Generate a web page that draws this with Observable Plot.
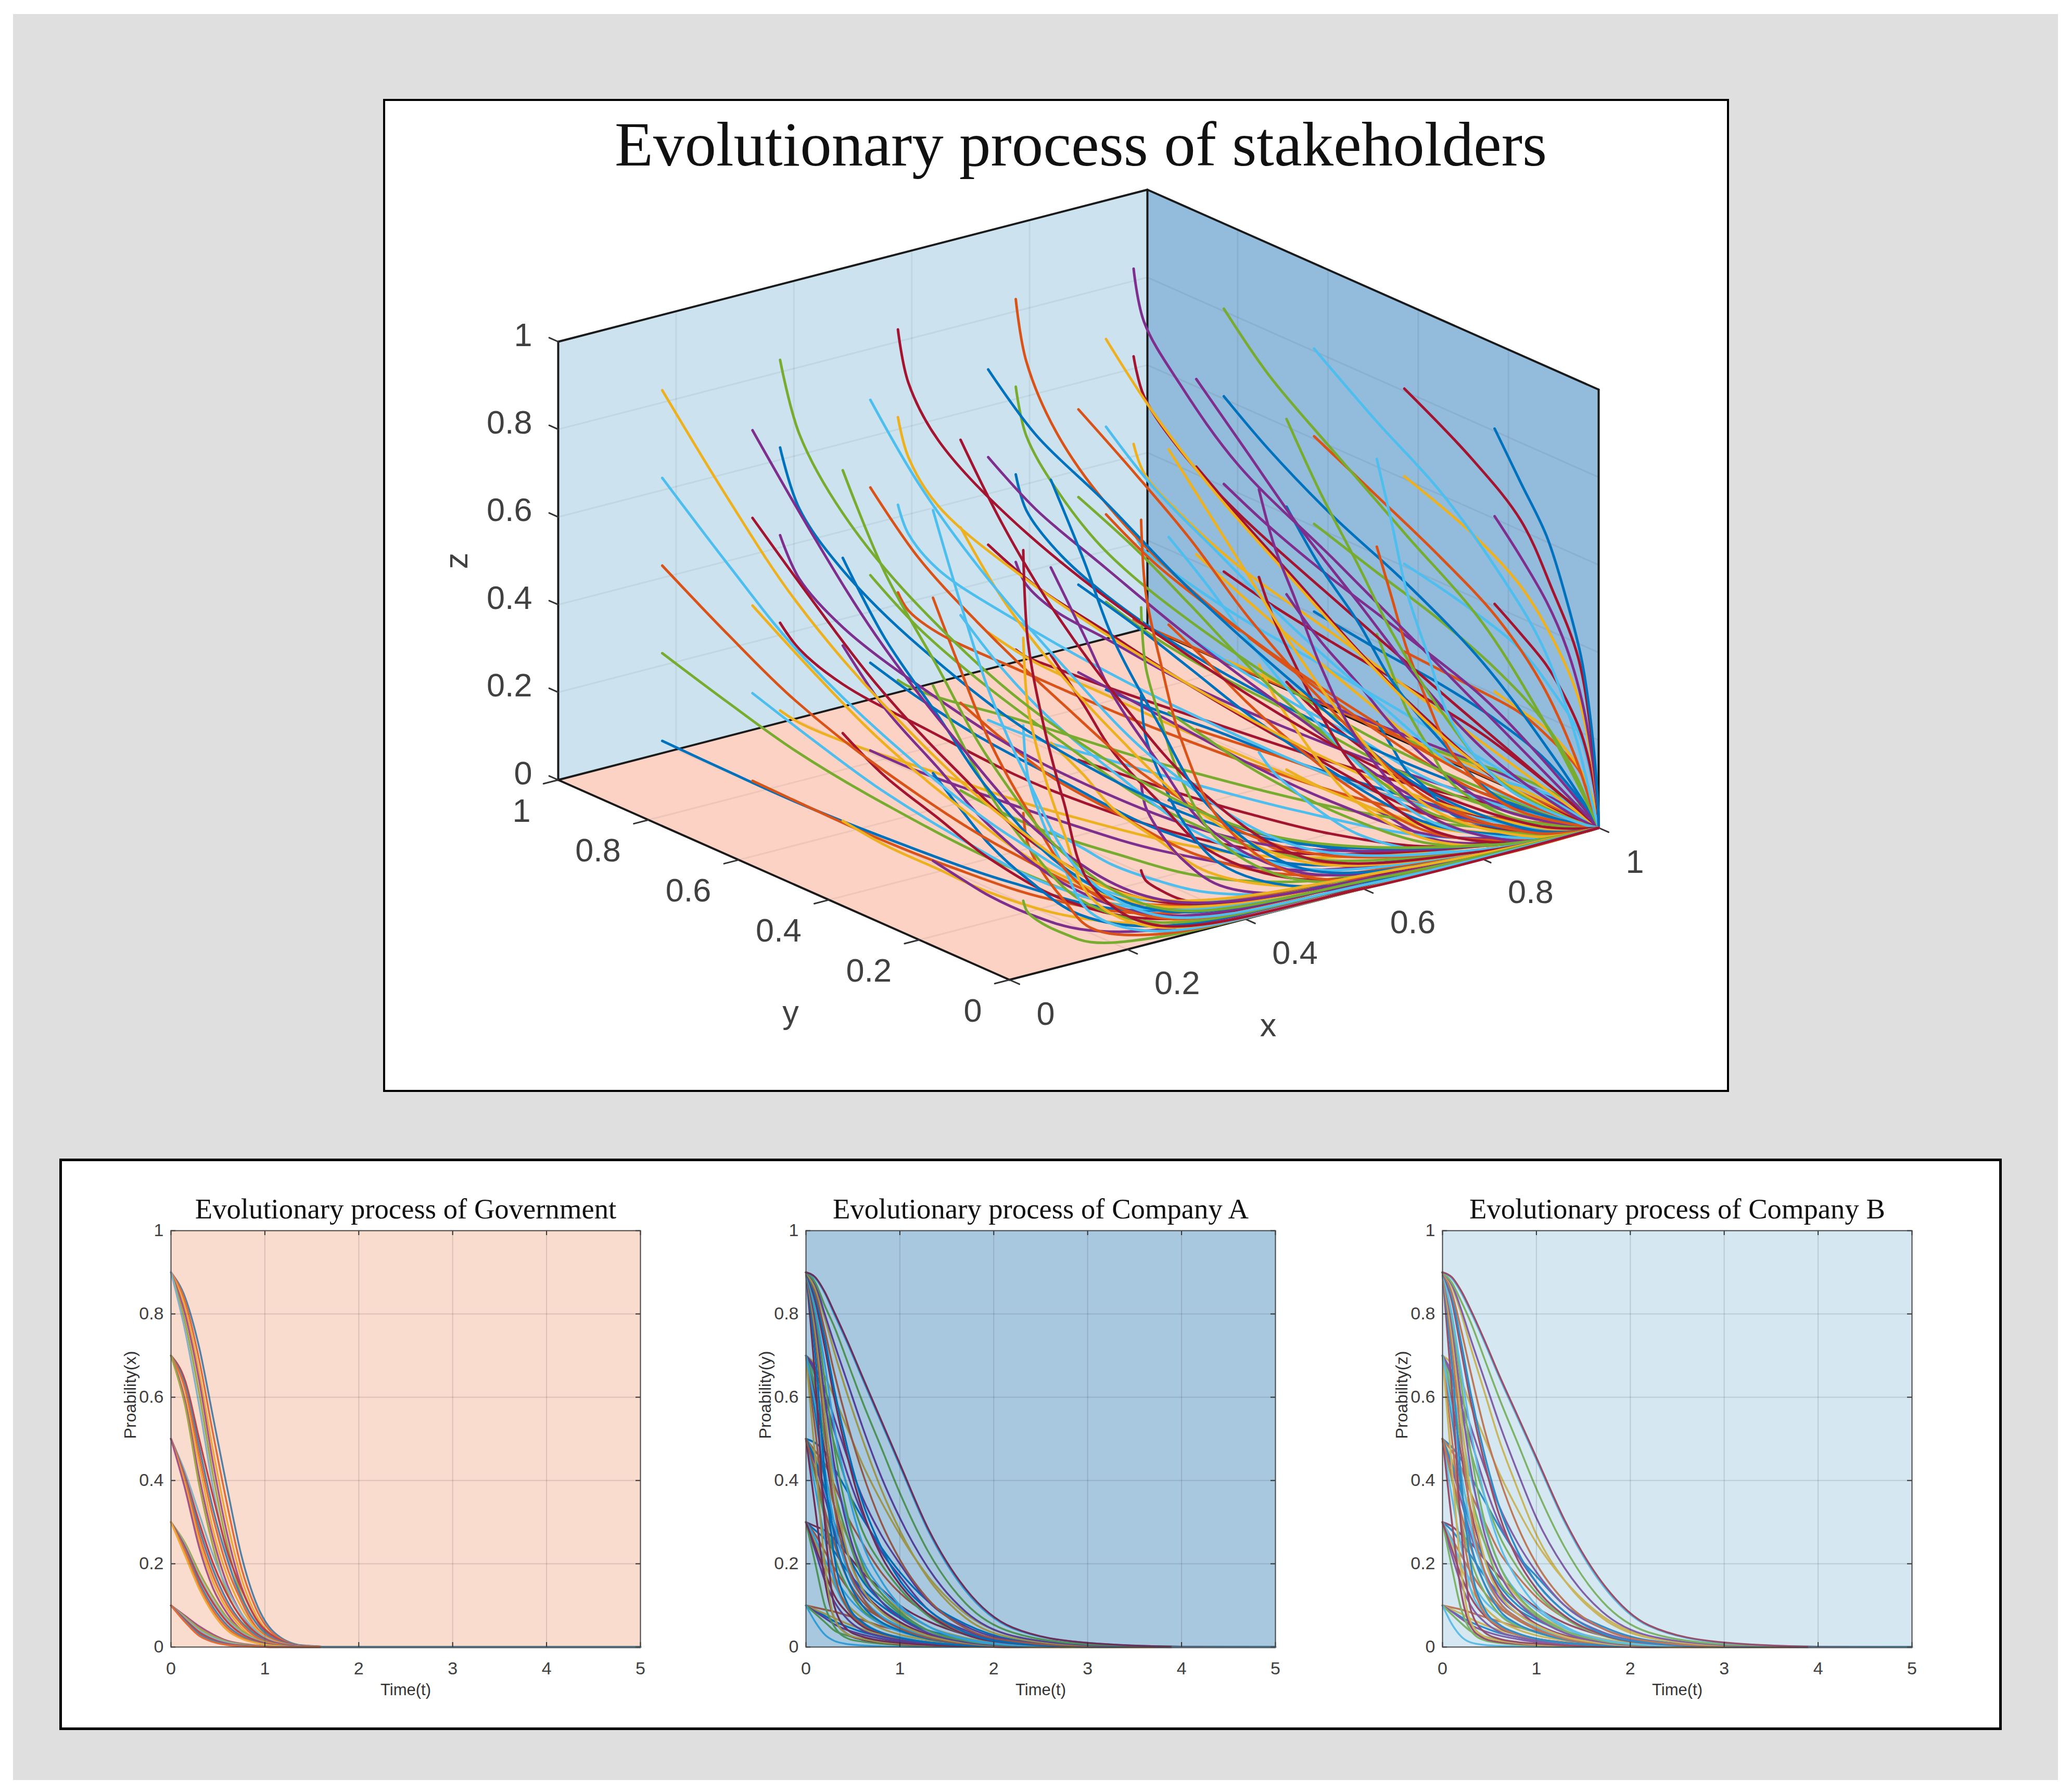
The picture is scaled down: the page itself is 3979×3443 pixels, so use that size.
<!DOCTYPE html>
<html><head><meta charset="utf-8">
<script src="https://cdn.jsdelivr.net/npm/d3@7"></script>
<script src="https://cdn.jsdelivr.net/npm/@observablehq/plot@0.6"></script>
<style>
html,body{margin:0;padding:0;background:#fff}
#page{position:relative;width:3979px;height:3443px;overflow:hidden}
.box{position:absolute;box-sizing:border-box}
#page svg{position:absolute;overflow:visible;max-width:none}
</style></head><body><div id="page">
<div class="box" style="left:25px;top:27px;width:3929px;height:3393px;background:#dfdfdf"></div>
<div class="box" style="left:736px;top:190px;width:2586px;height:1908px;background:#fff;border:4px solid #000"></div>
<div class="box" style="left:114px;top:2226px;width:3732px;height:1098px;background:#fff;border:5px solid #000"></div>
</div>
<script>
// MATLAB default line colours
const palette = ["#0072BD","#D95319","#EDB120","#7E2F8E","#77AC30","#4DBEEE","#A2142F"];
const ticks01 = [0,0.2,0.4,0.6,0.8,1];
const grid01 = [0.2,0.4,0.6,0.8];
const timeTicks = [0,1,2,3,4,5];

// ---- 3D trajectories: values, by start value ----
const sink = [1,0,0];
// x along a trajectory. Rows: start x .1 .3 .5 .7 .9; inner: start y .1 .3 .5 .7 .9
const xNodes = [
 [[.1,.1,.11,.13,.16,.25,.6],[.1,.11,.12,.14,.18,.28,.62],[.1,.11,.13,.15,.2,.3,.65],[.1,.12,.14,.17,.22,.32,.68],[.1,.12,.14,.17,.22,.3,.7]],
 [[.3,.3,.31,.33,.38,.5,.78],[.3,.31,.32,.35,.4,.52,.8],[.3,.31,.33,.37,.43,.55,.82],[.3,.32,.35,.39,.45,.57,.84],[.3,.31,.33,.37,.43,.56,.85]],
 [[.5,.51,.53,.56,.61,.72,.88],[.5,.52,.54,.58,.64,.74,.9],[.5,.53,.56,.6,.66,.76,.91],[.5,.52,.56,.61,.68,.78,.92],[.5,.51,.53,.58,.65,.78,.93]],
 [[.7,.71,.72,.74,.77,.85,.97],[.7,.71,.73,.75,.79,.86,.97],[.7,.73,.76,.79,.83,.9,.98],[.7,.72,.75,.78,.82,.88,.97],[.7,.71,.73,.76,.8,.87,.96]],
 [[.9,.925,.95,.968,.983,.994,.999],[.9,.93,.96,.975,.988,.996,.999],[.9,.92,.945,.965,.98,.99,.998],[.9,.915,.93,.95,.97,.985,.997],[.9,.91,.925,.94,.96,.98,.995]]];
// y along a trajectory. Rows: start x; inner: start y .1 .3 .5 .7 .9
const yNodes = [
 [[.1,.09,.07,.05,.03,.01,0],[.3,.25,.2,.14,.08,.03,.01],[.5,.42,.33,.24,.13,.05,.02],[.7,.59,.48,.35,.2,.08,.02],[.9,.78,.66,.5,.28,.11,.03]],
 [[.1,.09,.07,.05,.03,.01,0],[.3,.24,.19,.13,.08,.03,.01],[.5,.42,.34,.25,.14,.06,.02],[.7,.62,.53,.4,.25,.1,.02],[.9,.87,.8,.68,.46,.18,.03]],
 [[.1,.08,.06,.04,.02,.01,0],[.3,.24,.18,.13,.08,.03,.01],[.5,.41,.33,.25,.15,.06,.02],[.7,.62,.52,.4,.25,.1,.02],[.9,.89,.85,.74,.5,.2,.04]],
 [[.1,.08,.06,.04,.025,.01,0],[.3,.24,.18,.13,.08,.04,.01],[.5,.43,.35,.26,.17,.09,.02],[.7,.62,.52,.4,.27,.13,.03],[.9,.89,.85,.78,.62,.34,.1]],
 [[.1,.075,.05,.03,.015,.005,0],[.3,.19,.12,.07,.03,.01,0],[.5,.39,.28,.18,.1,.04,.01],[.7,.62,.5,.36,.22,.1,.02],[.9,.89,.83,.72,.53,.28,.06]]];
// z along a trajectory. Rows: start x; inner: start z .1 .3 .5 .7 .9
const zNodes = [
 [[.1,.078,.058,.038,.017,.004,0],[.3,.235,.175,.115,.05,.012,0],[.5,.39,.29,.19,.085,.02,0],[.7,.55,.41,.27,.12,.03,0],[.9,.7,.52,.34,.15,.035,0]],
 [[.1,.082,.065,.046,.024,.007,0],[.3,.25,.195,.14,.07,.02,0],[.5,.41,.325,.23,.12,.035,0],[.7,.57,.455,.32,.17,.05,0],[.9,.74,.585,.41,.22,.06,0]],
 [[.1,.087,.073,.056,.036,.013,.001],[.3,.26,.22,.17,.11,.04,.003],[.5,.435,.365,.28,.18,.065,.005],[.7,.61,.51,.39,.25,.09,.007],[.9,.78,.66,.5,.32,.12,.01]],
 [[.1,.085,.07,.05,.035,.015,.002],[.3,.25,.2,.16,.1,.045,.005],[.5,.42,.34,.26,.17,.075,.01],[.7,.59,.48,.36,.24,.1,.015],[.9,.76,.61,.47,.31,.14,.02]],
 [[.1,.087,.073,.058,.042,.022,.005],[.3,.26,.22,.175,.125,.065,.015],[.5,.435,.365,.29,.21,.11,.025],[.7,.61,.51,.41,.29,.15,.035],[.9,.78,.66,.52,.38,.2,.045]]];

// ---- time series panels ----
const govTime = [0,.15,.3,.45,.6,.75,.9,1.1,1.4,1.8,5];
const govCurves = [
 [.9,.84,.72,.55,.38,.22,.11,.035,.004,0,0],[.9,.83,.69,.51,.34,.19,.095,.03,.003,0,0],[.9,.815,.66,.47,.3,.165,.08,.025,.003,0,0],
 [.9,.8,.64,.44,.27,.145,.07,.02,.002,0,0],[.9,.78,.61,.41,.245,.125,.06,.016,.002,0,0],[.9,.76,.58,.38,.22,.11,.05,.012,.001,0,0],
 [.7,.64,.5,.36,.23,.14,.07,.025,.003,0,0],[.7,.63,.48,.33,.21,.12,.06,.02,.003,0,0],[.7,.62,.46,.31,.19,.11,.05,.017,.002,0,0],
 [.7,.6,.44,.28,.17,.095,.045,.014,.002,0,0],[.7,.59,.41,.26,.15,.08,.037,.011,.001,0,0],[.7,.58,.39,.24,.13,.07,.03,.009,.001,0,0],
 [.5,.42,.32,.22,.14,.08,.04,.013,.002,0,0],[.5,.41,.3,.2,.125,.07,.035,.011,.002,0,0],[.5,.405,.285,.185,.11,.06,.03,.009,.001,0,0],
 [.5,.4,.27,.17,.1,.055,.025,.008,.001,0,0],[.5,.39,.255,.155,.09,.047,.02,.006,.001,0,0],[.5,.38,.24,.14,.08,.04,.018,.005,.001,0,0],
 [.3,.25,.18,.12,.07,.04,.02,.006,.001,0,0],[.3,.245,.17,.11,.065,.035,.018,.005,.001,0,0],[.3,.24,.165,.105,.06,.032,.016,.005,.001,0,0],
 [.3,.235,.155,.095,.052,.027,.013,.004,.001,0,0],[.3,.23,.147,.087,.046,.023,.011,.003,0,0,0],[.3,.22,.14,.08,.04,.02,.01,.003,0,0,0],
 [.1,.075,.05,.03,.015,.008,.004,.001,0,0,0],[.1,.072,.045,.026,.013,.007,.003,.001,0,0,0],[.1,.069,.04,.022,.011,.005,.002,.001,0,0,0],
 [.1,.066,.036,.018,.008,.004,.002,0,0,0,0],[.1,.063,.031,.015,.006,.003,.001,0,0,0,0],[.1,.06,.027,.012,.005,.002,.001,0,0,0,0]];

const companyTime = [0,.1,.2,.3,.45,.6,.8,1,1.3,1.7,2.2,3,4,5];
const companyACurves = [
 [.1,.088,.075,.062,.048,.036,.025,.016,.009,.004,.001,0,0,0],[.1,.095,.09,.085,.075,.065,.05,.04,.025,.012,.004,.001,0,0],[.1,.09,.08,.07,.055,.043,.03,.02,.012,.006,.002,0,0,0],
 [.1,.085,.07,.055,.04,.03,.02,.013,.007,.003,.001,0,0,0],[.1,.08,.06,.04,.027,.018,.012,.008,.004,.002,0,0,0,0],
 [.1,.06,.03,.015,.007,.004,.002,.001,0,0,0,0,0,0],
 [.3,.29,.28,.26,.22,.18,.14,.1,.062,.03,.01,.002,0,0],[.3,.28,.26,.23,.18,.14,.1,.07,.04,.02,.006,.001,0,0],
 [.3,.27,.23,.19,.14,.1,.07,.045,.026,.012,.004,0,0,0],[.3,.25,.2,.15,.1,.07,.045,.03,.017,.007,.002,0,0,0],
 [.3,.23,.16,.11,.065,.04,.026,.017,.009,.004,.001,0,0,0],[.3,.2,.1,.05,.02,.013,.008,.005,.003,.001,0,0,0,0],
 [.3,.26,.21,.17,.12,.085,.055,.037,.02,.009,.003,0,0,0],[.3,.24,.18,.125,.08,.05,.033,.022,.012,.005,.001,0,0,0],
 [.5,.49,.47,.43,.37,.31,.24,.18,.11,.055,.018,.003,0,0],[.5,.47,.44,.39,.31,.25,.18,.13,.08,.035,.011,.002,0,0],
 [.5,.46,.41,.34,.26,.19,.13,.09,.05,.022,.007,.001,0,0],[.5,.44,.36,.28,.19,.13,.09,.06,.03,.013,.004,0,0,0],
 [.5,.41,.31,.22,.14,.09,.06,.04,.02,.008,.002,0,0,0],[.5,.38,.26,.16,.09,.06,.035,.024,.012,.005,.001,0,0,0],
 [.5,.33,.16,.07,.03,.018,.011,.007,.004,.001,0,0,0,0],[.5,.45,.38,.3,.22,.16,.11,.075,.04,.018,.005,.001,0,0],[.5,.42,.33,.25,.16,.11,.07,.05,.025,.01,.003,0,0,0],
 [.7,.68,.65,.6,.52,.44,.35,.27,.17,.08,.027,.005,.001,0],[.7,.67,.62,.55,.45,.36,.27,.2,.11,.05,.016,.003,0,0],
 [.7,.65,.58,.49,.38,.28,.2,.14,.075,.03,.009,.001,0,0],[.7,.63,.53,.42,.3,.21,.14,.095,.05,.02,.006,.001,0,0],
 [.7,.6,.47,.34,.22,.14,.09,.06,.03,.012,.003,0,0,0],[.7,.56,.4,.27,.16,.1,.06,.04,.02,.008,.002,0,0,0],
 [.7,.52,.32,.18,.09,.055,.035,.022,.011,.004,.001,0,0,0],[.7,.45,.2,.07,.03,.02,.012,.008,.004,.001,0,0,0,0],
 [.7,.66,.6,.52,.41,.32,.23,.17,.09,.04,.012,.002,0,0],[.7,.62,.5,.38,.26,.17,.12,.08,.04,.016,.004,0,0,0],[.7,.58,.43,.3,.18,.12,.075,.05,.025,.01,.002,0,0,0],
 [.9,.64,.3,.1,.04,.025,.015,.01,.005,.002,0,0,0,0],[.9,.7,.42,.22,.1,.06,.035,.022,.011,.004,.001,0,0,0],[.9,.74,.52,.34,.19,.12,.07,.045,.022,.008,.002,0,0,0],
 [.9,.76,.56,.38,.22,.14,.085,.055,.027,.01,.002,0,0,0],[.9,.78,.6,.44,.28,.18,.11,.07,.034,.012,.003,0,0,0],[.9,.8,.64,.48,.31,.2,.13,.085,.04,.015,.004,0,0,0],
 [.9,.81,.68,.53,.37,.25,.16,.1,.05,.018,.005,.001,0,0],[.9,.83,.72,.6,.45,.33,.22,.15,.08,.03,.009,.001,0,0],[.9,.84,.74,.62,.47,.35,.24,.16,.09,.035,.01,.001,0,0],
 [.9,.85,.76,.66,.53,.42,.3,.21,.115,.045,.014,.002,0,0],[.9,.86,.79,.71,.6,.5,.38,.28,.165,.07,.022,.004,0,0],[.9,.87,.8,.73,.63,.53,.41,.31,.19,.085,.027,.005,0,0],
 [.9,.875,.82,.77,.68,.59,.48,.37,.23,.105,.035,.007,.001,0],[.9,.885,.85,.8,.725,.645,.54,.435,.28,.135,.045,.01,.001,0],[.9,.888,.853,.805,.73,.65,.545,.44,.285,.14,.047,.01,.001,0]];
const companyBCurves = [
 [.1,.086,.072,.06,.046,.034,.024,.015,.008,.004,.001,0,0,0],[.1,.095,.09,.083,.072,.062,.048,.038,.024,.011,.004,.001,0,0],[.1,.09,.08,.068,.053,.041,.029,.02,.011,.005,.002,0,0,0],
 [.1,.085,.068,.053,.038,.028,.019,.012,.006,.003,.001,0,0,0],[.1,.078,.057,.038,.025,.017,.011,.007,.004,.002,0,0,0,0],
 [.1,.055,.025,.011,.005,.003,.002,.001,0,0,0,0,0,0],
 [.3,.29,.27,.25,.21,.17,.13,.095,.058,.028,.009,.002,0,0],[.3,.28,.25,.22,.17,.13,.09,.065,.038,.018,.006,.001,0,0],
 [.3,.26,.22,.18,.13,.095,.065,.042,.024,.011,.003,0,0,0],[.3,.25,.19,.14,.095,.065,.042,.028,.016,.007,.002,0,0,0],
 [.3,.22,.15,.1,.06,.037,.024,.016,.008,.004,.001,0,0,0],[.3,.19,.09,.04,.016,.01,.006,.004,.002,.001,0,0,0,0],
 [.3,.255,.2,.16,.11,.08,.052,.035,.019,.008,.003,0,0,0],[.3,.235,.17,.12,.075,.047,.03,.02,.011,.005,.001,0,0,0],
 [.5,.48,.45,.41,.35,.29,.22,.17,.1,.05,.016,.003,0,0],[.5,.47,.43,.37,.3,.23,.17,.12,.07,.03,.01,.002,0,0],
 [.5,.45,.39,.33,.25,.18,.12,.08,.045,.02,.006,.001,0,0],[.5,.43,.35,.27,.18,.12,.08,.055,.028,.012,.003,0,0,0],
 [.5,.4,.3,.21,.13,.08,.05,.035,.018,.007,.002,0,0,0],[.5,.36,.24,.14,.08,.05,.03,.02,.01,.004,.001,0,0,0],
 [.5,.3,.13,.05,.02,.012,.008,.005,.003,.001,0,0,0,0],[.5,.44,.37,.29,.21,.15,.1,.07,.037,.016,.005,.001,0,0],[.5,.41,.32,.24,.15,.1,.065,.045,.023,.009,.003,0,0,0],
 [.7,.68,.64,.58,.5,.42,.33,.25,.16,.075,.025,.005,0,0],[.7,.66,.6,.53,.43,.34,.25,.18,.1,.045,.014,.002,0,0],
 [.7,.64,.56,.47,.36,.27,.19,.13,.07,.028,.008,.001,0,0],[.7,.62,.52,.41,.29,.2,.13,.09,.046,.018,.005,.001,0,0],
 [.7,.59,.46,.33,.21,.14,.09,.055,.028,.011,.003,0,0,0],[.7,.55,.38,.25,.15,.09,.055,.036,.018,.007,.002,0,0,0],
 [.7,.5,.3,.17,.08,.05,.03,.02,.01,.004,.001,0,0,0],[.7,.43,.18,.06,.025,.016,.01,.006,.003,.001,0,0,0,0],
 [.7,.65,.58,.5,.39,.3,.22,.155,.085,.036,.011,.002,0,0],[.7,.61,.49,.37,.25,.16,.11,.075,.037,.015,.004,0,0,0],[.7,.57,.42,.29,.17,.11,.07,.047,.023,.009,.002,0,0,0],
 [.9,.62,.28,.09,.035,.02,.012,.008,.004,.001,0,0,0,0],[.9,.68,.4,.2,.09,.055,.033,.02,.01,.004,.001,0,0,0],[.9,.72,.5,.32,.18,.11,.07,.044,.02,.008,.002,0,0,0],
 [.9,.75,.55,.37,.21,.13,.08,.052,.025,.009,.002,0,0,0],[.9,.77,.59,.43,.27,.18,.11,.07,.034,.012,.003,0,0,0],[.9,.79,.63,.47,.3,.2,.125,.08,.04,.015,.004,0,0,0],
 [.9,.8,.66,.52,.36,.25,.16,.1,.05,.018,.005,.001,0,0],[.9,.83,.71,.59,.44,.32,.21,.14,.075,.03,.009,.001,0,0],[.9,.84,.73,.61,.46,.34,.23,.155,.085,.033,.01,.001,0,0],
 [.9,.85,.76,.66,.52,.41,.29,.2,.11,.045,.014,.002,0,0],[.9,.865,.8,.72,.61,.5,.38,.27,.16,.07,.022,.004,0,0],[.9,.87,.81,.74,.64,.54,.42,.31,.19,.085,.027,.005,0,0],
 [.9,.875,.83,.78,.69,.6,.49,.38,.24,.11,.035,.007,.001,0],[.9,.885,.85,.805,.73,.65,.55,.45,.3,.15,.05,.01,.001,0],[.9,.888,.855,.81,.735,.655,.555,.455,.305,.155,.052,.011,.001,0]];

// ---- view of the 3D box: where the unit axes land in the figure ----
const view = {ox:1939, oy:1882, xx:1132, xy:-292, yx:-867, yy:-384, zy:-842};
const sx = (x,y) => view.ox + view.xx*x + view.yx*y;
const sy = (x,y,z) => view.oy + view.xy*x + view.yy*y + view.zy*z;
const toRow = (id,[x,y,z]) => ({id, px:sx(x,y), py:sy(x,y,z)});
const polygon = corners => corners.map(c => toRow(0,c));
const segments = list => list.flatMap(([a,b],i) => [toRow(i,a),toRow(i,b)]);

const trajectories = [];
let order = 0;
for (let iz=0; iz<5; iz++) for (let ix=4; ix>=0; ix--) for (let iy=4; iy>=0; iy--) {
  const c = (order+1)%7;
  xNodes[ix][iy].forEach((x,k) => trajectories.push({...toRow(order,[x,yNodes[ix][iy][k],zNodes[ix][iz][k]]), c}));
  trajectories.push({...toRow(order,sink), c});
  order++;
}

const gridLines = segments([
  ...grid01.map(v => [[v,1,0],[v,1,1]]), ...grid01.map(v => [[0,1,v],[1,1,v]]),
  ...grid01.map(v => [[1,v,0],[1,v,1]]), ...grid01.map(v => [[1,0,v],[1,1,v]]),
  ...grid01.map(v => [[v,0,0],[v,1,0]]), ...grid01.map(v => [[0,v,0],[1,v,0]])]);
const edges = segments([
  [[0,1,0],[0,1,1]],[[0,1,1],[1,1,1]],[[1,1,1],[1,0,1]],[[1,1,0],[1,1,1]],[[1,0,0],[1,0,1]],
  [[0,1,0],[1,1,0]],[[1,1,0],[1,0,0]],[[0,1,0],[0,0,0]],[[0,0,0],[1,0,0]]]);
const tickLines = segments([
  ...ticks01.map(v => [[v,0,0],[v,-.022,0]]),
  ...ticks01.map(v => [[0,v,0],[-.025,v,0]]),
  ...ticks01.map(v => [[0,1,v],[0,1.02,v]])]);
const fmt = d => String(d);
const labelFont = "'Liberation Sans',Arial,sans-serif";
const serif = "'Liberation Serif','Times New Roman',serif";
const px = d => d.px, py = d => d.py;
const segLine = (data,opts) => Plot.line(data,{x:px,y:py,z:"id",...opts});

const plot3d = Plot.plot({
  width:2584, height:1906, margin:0,
  style:{background:"transparent"},
  x:{domain:[736,3320],range:[0,2584],axis:null},
  y:{domain:[190,2096],range:[0,1906],axis:null},
  color:{type:"ordinal",domain:d3.range(7),range:palette},
  marks:[
    Plot.line(polygon([[0,1,0],[1,1,0],[1,1,1],[0,1,1]]),{x:px,y:py,fill:"#cce3ef",stroke:"none"}),
    Plot.line(polygon([[1,1,0],[1,0,0],[1,0,1],[1,1,1]]),{x:px,y:py,fill:"#93bbdc",stroke:"none"}),
    Plot.line(polygon([[0,1,0],[1,1,0],[1,0,0],[0,0,0]]),{x:px,y:py,fill:"#fcd2c4",stroke:"none"}),
    segLine(gridLines,{stroke:"#26262a",strokeOpacity:.07,strokeWidth:3}),
    segLine(edges,{stroke:"#1a1a1a",strokeWidth:4}),
    segLine(tickLines,{stroke:"#333",strokeWidth:3}),
    Plot.line(trajectories,{x:px,y:py,z:"id",stroke:"c",strokeWidth:5,curve:"catmull-rom"}),
    Plot.text(ticks01,{x:v=>sx(0,1),y:v=>sy(0,1,v),text:fmt,dx:-50,dy:-12,textAnchor:"end",fontSize:63,fontFamily:labelFont,fill:"#404040"}),
    Plot.text(ticks01,{x:v=>sx(0,v),y:v=>sy(0,v,0),text:fmt,dx:-53,dy:60,textAnchor:"end",fontSize:63,fontFamily:labelFont,fill:"#404040"}),
    Plot.text(ticks01,{x:v=>sx(v,0),y:v=>sy(v,0,0),text:fmt,dx:52,dy:66,textAnchor:"start",fontSize:63,fontFamily:labelFont,fill:"#404040"}),
    Plot.text(["x"],{x:()=>sx(.5,0),y:()=>sy(.5,0,0),dx:-69,dy:234,fontSize:63,fontFamily:labelFont,fill:"#404040"}),
    Plot.text(["y"],{x:()=>sx(0,.5),y:()=>sy(0,.5,0),dx:13,dy:255,fontSize:63,fontFamily:labelFont,fill:"#404040"}),
    Plot.text(["z"],{x:()=>sx(0,1),y:()=>sy(0,1,.5),dx:-195,rotate:-90,fontSize:63,fontFamily:labelFont,fill:"#404040"}),
    Plot.text(["Evolutionary process of stakeholders"],{frameAnchor:"top",dx:48,dy:42,fontSize:121,fontFamily:serif,fill:"#111"})
  ]
});
plot3d.style.left="736px"; plot3d.style.top="190px";
document.getElementById("page").appendChild(plot3d);

function panel({left,title,ylabel,curves,times,veil,veilAlpha,baseFrom}) {
  const rows = curves.flatMap((vals,id) => vals.map((v,k) => ({id,t:times[k],v,c:id%7})));
  const W=902,H=800,mL=130,mR=40,mT=90,mB=110;
  const p = Plot.plot({
    width:W+mL+mR, height:H+mT+mB, marginLeft:mL, marginRight:mR, marginTop:mT, marginBottom:mB,
    style:{background:"transparent"},
    x:{domain:[0,5]}, y:{domain:[0,1]},
    color:{type:"ordinal",domain:d3.range(7),range:palette},
    marks:[
      Plot.line(rows,{x:"t",y:"v",z:"id",stroke:"c",strokeWidth:3.5,curve:"monotone-x"}),
      Plot.frame({fill:veil,fillOpacity:veilAlpha,stroke:null}),
      Plot.line(baseFrom,{x:"t",y:"v",stroke:"#5bbfe8",strokeWidth:3.5}),
      Plot.gridX(timeTicks.slice(1,5),{stroke:"#26262a",strokeOpacity:.15,strokeWidth:2}),
      Plot.gridY(ticks01.slice(1,5),{stroke:"#26262a",strokeOpacity:.15,strokeWidth:2}),
      Plot.tickY(ticks01,{y:d=>d,insetRight:W-9,stroke:"#333",strokeWidth:2}),
      Plot.tickY(ticks01,{y:d=>d,insetLeft:W-9,stroke:"#333",strokeWidth:2}),
      Plot.tickX(timeTicks,{x:d=>d,insetTop:H-9,stroke:"#333",strokeWidth:2}),
      Plot.tickX(timeTicks,{x:d=>d,insetBottom:H-9,stroke:"#333",strokeWidth:2}),
      Plot.frame({stroke:"#444",strokeWidth:2}),
      Plot.axisX(timeTicks,{tickSize:0,tickPadding:28,label:null,fontSize:34,fontFamily:labelFont,fill:"#404040",tickFormat:fmt}),
      Plot.axisY(ticks01,{tickSize:0,tickPadding:14,label:null,fontSize:34,fontFamily:labelFont,fill:"#404040",tickFormat:fmt}),
      Plot.text([title],{frameAnchor:"top",dy:-62,fontSize:54.7,fontFamily:serif,fill:"#111"}),
      Plot.text([ylabel],{frameAnchor:"left",dx:-78,rotate:-90,fontSize:32,fontFamily:labelFont,fill:"#333"}),
      Plot.text(["Time(t)"],{frameAnchor:"bottom",dy:92,fontSize:31,fontFamily:labelFont,fill:"#333"})
    ]
  });
  p.style.left=(left-mL)+"px"; p.style.top=(2364-mT)+"px";
  document.getElementById("page").appendChild(p);
}
panel({left:328,title:"Evolutionary process of Government",ylabel:"Proability(x)",curves:govCurves,times:govTime,veil:"#f19b76",veilAlpha:.35,baseFrom:[{t:1.6,v:0},{t:5,v:0}]});
panel({left:1548,title:"Evolutionary process of Company A",ylabel:"Proability(y)",curves:companyACurves,times:companyTime,veil:"#0662a6",veilAlpha:.35,baseFrom:[{t:3.9,v:0},{t:5,v:0}]});
panel({left:2771,title:"Evolutionary process of Company B",ylabel:"Proability(z)",curves:companyBCurves,times:companyTime,veil:"#87bdd7",veilAlpha:.35,baseFrom:[{t:3.9,v:0},{t:5,v:0}]});
</script></body></html>
